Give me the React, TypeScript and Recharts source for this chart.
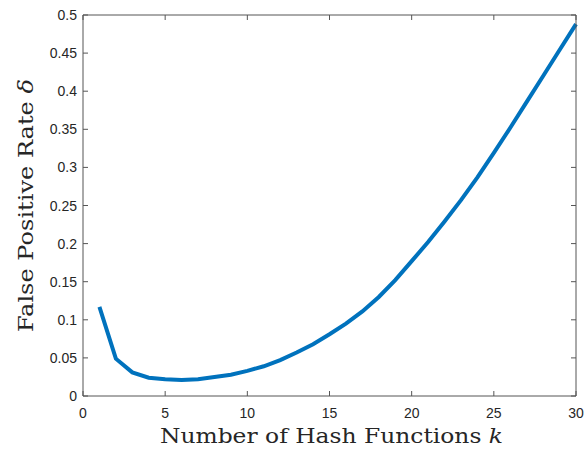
import { LineChart, Line, XAxis, YAxis } from "recharts";

const hashCounts = [
  1, 2, 3, 4, 5, 6, 7, 8, 9, 10, 11, 12, 13, 14, 15,
  16, 17, 18, 19, 20, 21, 22, 23, 24, 25, 26, 27, 28, 29, 30,
];
const falsePositive = [
  0.117, 0.049, 0.031, 0.024, 0.022, 0.021, 0.022, 0.025, 0.028, 0.033,
  0.039, 0.047, 0.057, 0.068, 0.081, 0.095, 0.111, 0.13, 0.152, 0.177,
  0.202, 0.229, 0.257, 0.287, 0.319, 0.352, 0.386, 0.42, 0.454, 0.488,
];
const xTicks = [0, 5, 10, 15, 20, 25, 30];
const yTicks = [0, 0.05, 0.1, 0.15, 0.2, 0.25, 0.3, 0.35, 0.4, 0.45, 0.5];

const data = hashCounts.map((k, i) => ({ k, rate: falsePositive[i] }));

const W = 585;
const H = 449;
const LEFT = 83;
const TOP = 15;
const RIGHT = W - 9;
const BOTTOM = H - 53;
const TICK = 5;

const axisColor = "#555";
const textColor = "#262626";
const tickFontFamily = "Liberation Sans, Arial, sans-serif";
const labelFont = "DejaVu Serif, serif";

// MATLAB-style: tick marks point into the plot box
const BottomTick = ({ x, payload }: any) => (
  <g>
    <line x1={x} x2={x} y1={BOTTOM} y2={BOTTOM - TICK} stroke={axisColor} />
    <text x={x} y={BOTTOM + 22} textAnchor="middle" fontSize={14} fontFamily={tickFontFamily} fill={textColor}>
      {payload.value}
    </text>
  </g>
);

const TopTick = ({ x }: any) => (
  <line x1={x} x2={x} y1={TOP} y2={TOP + TICK} stroke={axisColor} />
);

const LeftTick = ({ y, payload }: any) => (
  <g>
    <line x1={LEFT} x2={LEFT + TICK} y1={y} y2={y} stroke={axisColor} />
    <text x={LEFT - 6} y={y + 5} textAnchor="end" fontSize={14} fontFamily={tickFontFamily} fill={textColor}>
      {payload.value}
    </text>
  </g>
);

const RightTick = ({ y }: any) => (
  <line x1={RIGHT} x2={RIGHT - TICK} y1={y} y2={y} stroke={axisColor} />
);

export default function App() {
  return (
    <div style={{ position: "absolute", left: 0, top: 0, background: "#fff" }}>
      <LineChart width={W} height={H} data={data} margin={{ top: TOP - 1, right: W - RIGHT - 1, bottom: 0, left: 0 }}>
        <XAxis
          dataKey="k"
          type="number"
          domain={[0, 30]}
          ticks={xTicks}
          height={H - BOTTOM}
          stroke={axisColor}
          tickLine={false}
          tick={<BottomTick />}
          label={{
            content: ({ viewBox }: any) => (
              <text
                x={viewBox.x + viewBox.width / 2 + 2}
                y={443}
                textAnchor="middle"
                fontFamily={labelFont}
                fontSize={21}
                textLength={343}
                lengthAdjust="spacingAndGlyphs"
                fill={textColor}
              >
                Number of Hash Functions <tspan fontStyle="italic">k</tspan>
              </text>
            ),
          }}
        />
        <XAxis
          xAxisId="top"
          dataKey="k"
          orientation="top"
          type="number"
          domain={[0, 30]}
          ticks={xTicks}
          height={1}
          stroke={axisColor}
          tickLine={false}
          tick={<TopTick />}
        />
        <YAxis
          type="number"
          domain={[0, 0.5]}
          ticks={yTicks}
          width={LEFT}
          stroke={axisColor}
          tickLine={false}
          tick={<LeftTick />}
          label={{
            content: ({ viewBox }: any) => {
              const cy = viewBox.y + viewBox.height / 2;
              return (
                <text
                  x={33}
                  y={cy}
                  transform={`rotate(-90 33 ${cy})`}
                  textAnchor="middle"
                  fontFamily={labelFont}
                  fontSize={21}
                  textLength={253}
                  lengthAdjust="spacingAndGlyphs"
                  fill={textColor}
                >
                  False Positive Rate <tspan fontStyle="italic">δ</tspan>
                </text>
              );
            },
          }}
        />
        <YAxis
          yAxisId="right"
          orientation="right"
          type="number"
          domain={[0, 0.5]}
          ticks={yTicks}
          width={1}
          stroke={axisColor}
          tickLine={false}
          tick={<RightTick />}
        />
        <Line
          dataKey="rate"
          type="linear"
          stroke="#0072BD"
          strokeWidth={4}
          dot={false}
          isAnimationActive={false}
        />
        <Line
          xAxisId="top"
          yAxisId="right"
          dataKey="rate"
          stroke="none"
          dot={false}
          activeDot={false}
          legendType="none"
          isAnimationActive={false}
        />
      </LineChart>
    </div>
  );
}
